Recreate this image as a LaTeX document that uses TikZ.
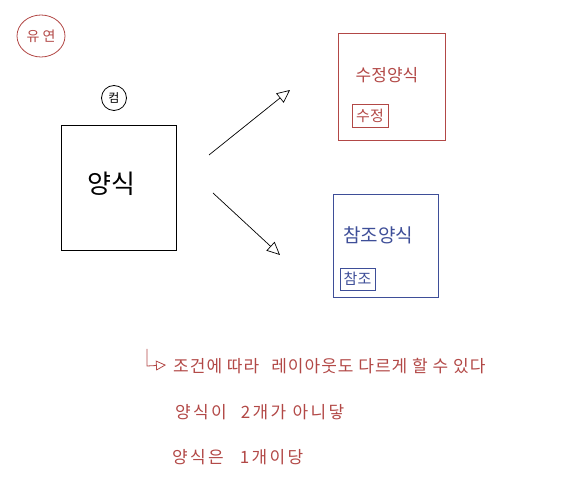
\documentclass[tikz,border=0pt]{standalone}
\usepackage{fontspec}
\newfontfamily\kr{Noto Sans CJK KR}
\newfontfamily\krsp{Noto Sans CJK KR}[LetterSpace=6]
\newfontfamily\krwide{Noto Sans CJK KR}[LetterSpace=14]
\usetikzlibrary{arrows.meta,shapes.geometric}
\definecolor{hred}{RGB}{178,72,70}
\definecolor{hblue}{RGB}{62,78,152}
\begin{document}
\begin{tikzpicture}[x=1pt,y=-1pt,
  frame/.style={draw, line width=0.8pt, inner sep=0pt},
  lbl/.style={inner sep=0pt},
  note/.style={inner sep=0pt, text=hred, anchor=west, font=\krsp\fontsize{17}{17}\selectfont},
  arr/.style={line width=0.7pt, -{Triangle[open,length=13pt,width=12pt]}}]
\useasboundingbox (0,0) rectangle (582,494);
% flexible tag
\node[frame, hred, ellipse, minimum width=48pt, minimum height=42pt] (flex) at (41,36) {};
\node[lbl, text=hred, font=\kr\fontsize{14}{14}\selectfont] (flexl) at (flex) {유 연};
% component tag
\node[frame, circle, minimum size=25pt] (comp) at (114,98) {};
\node[lbl, font=\kr\fontsize{12}{12}\selectfont] (compl) at (comp) {컴};
% main form
\node[frame, minimum width=115pt, minimum height=125pt] (main) at (118.5,187.5) {};
\node[lbl, font=\kr\fontsize{26}{26}\selectfont] (mainl) at (111,184) {양식};
% edit form
\node[frame, hred, minimum width=107pt, minimum height=107pt] (edit) at (391.5,86.5) {};
\node[lbl, text=hred, font=\kr\fontsize{17}{17}\selectfont] (editl) at (387,75) {수정양식};
\node[frame, hred, minimum width=36pt, minimum height=23pt] (editb) at (370,115.5) {};
\node[lbl, text=hred, font=\kr\fontsize{15}{15}\selectfont] (editbl) at (editb) {수정};
% view form
\node[frame, hblue, minimum width=105pt, minimum height=103pt] (view) at (385.5,245.5) {};
\node[lbl, text=hblue, font=\kr\fontsize{19}{19}\selectfont] (viewl) at (378,235) {참조양식};
\node[frame, hblue, minimum width=35pt, minimum height=22pt] (viewb) at (357.5,279) {};
\node[lbl, text=hblue, font=\kr\fontsize{15}{15}\selectfont] (viewbl) at (viewb) {참조};
% arrows
\coordinate (a1s) at (209,155);
\coordinate (a1e) at (290,90);
\coordinate (a2s) at (213,193);
\coordinate (a2e) at (280,255);
\draw[arr] (a1s) -- (a1e);
\draw[arr] (a2s) -- (a2e);
% notes
\coordinate (h1) at (147,349);
\coordinate (h2) at (147,366);
\coordinate (h3) at (166,365);
\draw[hred, line width=0.8pt, -{Triangle[open,length=10pt,width=10pt]}] (h1) -- (h2) -- (h3);
\node[note] (n1) at (173,366) {조건에 따라\hspace{12pt}레이아웃도 다르게 할 수 있다};
\node[note, font=\krwide\fontsize{17}{17}\selectfont] (n2) at (175,412) {양식이\hspace{14pt}2개가 아니닿};
\node[note, font=\krwide\fontsize{17}{17}\selectfont] (n3) at (172,457) {양식은\hspace{16pt}1개이당};
\end{tikzpicture}
\end{document}
